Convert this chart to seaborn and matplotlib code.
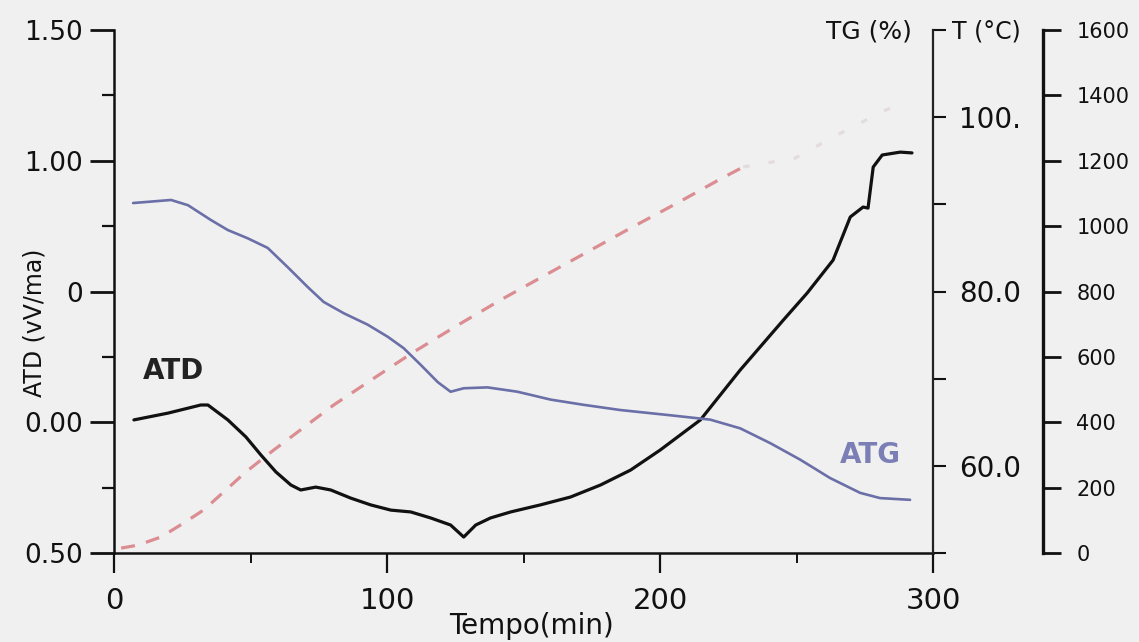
import matplotlib
matplotlib.use("Agg")
import matplotlib.pyplot as plt
import numpy as np
import pandas as pd
import seaborn as sns
from matplotlib.ticker import FixedLocator, FixedFormatter

# ---- data -----------------------------------------------------------------
# ATD signal (left axis)
atd_time = [7.3, 19.8, 31.8, 34.4, 41.7, 48.3, 53.8, 59.3, 64.8, 68.4, 73.9,
            79.4, 86.7, 94.0, 101.4, 108.7, 116.0, 123.3, 128.1, 132.5, 137.9,
            145.3, 156.2, 167.2, 178.2, 189.2, 200.1, 214.8, 229.4, 245.2,
            253.9, 263.4, 269.7, 274.4, 276.2, 278.1, 281.4, 288.0, 292.3]
atd_signal = [0.009, 0.035, 0.066, 0.066, 0.009, -0.056, -0.125, -0.190,
              -0.240, -0.259, -0.248, -0.259, -0.290, -0.316, -0.336, -0.343,
              -0.366, -0.393, -0.439, -0.393, -0.366, -0.343, -0.316, -0.286,
              -0.240, -0.183, -0.106, 0.009, 0.200, 0.391, 0.494, 0.620,
              0.785, 0.823, 0.819, 0.976, 1.022, 1.033, 1.030]

# ATG mass curve (TG axis, %)
atg_time = [7.0, 20.9, 27.1, 35.5, 41.7, 49.0, 56.3, 63.6, 71.0, 76.8, 84.2,
            92.9, 100.3, 106.1, 112.3, 118.6, 123.3, 128.1, 136.8, 147.8,
            159.9, 172.0, 185.5, 203.8, 218.4, 229.4, 240.4, 251.4, 262.3,
            273.3, 280.6, 291.6]
atg_mass = [90.15, 90.5, 89.9, 88.2, 87.05, 86.1, 85.0, 82.8, 80.5, 78.8, 77.5,
            76.2, 74.8, 73.5, 71.6, 69.6, 68.5, 68.9, 69.0, 68.5, 67.6, 67.0,
            66.4, 65.8, 65.3, 64.3, 62.6, 60.7, 58.6, 56.9, 56.3, 56.1]

# Furnace temperature (T axis, degC)
temp_time = [2.6, 8.8, 17.2, 25.6, 32.9, 48.3, 58.5, 80.5, 101.4, 109.8,
             125.9, 141.6, 157.3, 173.4, 189.2, 206.4, 222.1, 230.5, 249.5,
             264.9, 273.3, 281.7, 290.5]
temp_value = [15, 24, 49, 92, 132, 248, 315, 453, 569, 615, 697, 774, 847,
              921, 994, 1071, 1144, 1181, 1208, 1279, 1315, 1352, 1380]

# ---- tick labels ----------------------------------------------------------
x_ticks = [0, 100, 200, 300]
x_tick_labels = ["0", "100", "200", "300"]
atd_ticks = [-0.5, 0.0, 0.5, 1.0, 1.5]
atd_tick_labels = ["0.50", "0.00", "0", "1.00", "1.50"]
tg_ticks = [60, 80, 100]
tg_tick_labels = ["60.0", "80.0", "100."]
t_ticks = [0, 200, 400, 600, 800, 1000, 1200, 1400, 1600]
t_tick_labels = ["0", "200", "400", "600", "800", "1000", "1200", "1400", "1600"]

# ---- style ----------------------------------------------------------------
sns.set_style("ticks")
plt.rcParams["font.family"] = ["DejaVu Sans"]
BG = "#f0f0f0"
INK = "#111111"

W, H = 1139, 642
fig = plt.figure(figsize=(W / 100, H / 100), dpi=100, facecolor=BG)

x0, x1, y_top, y_bot = 114, 933, 30, 553
ax = fig.add_axes([x0 / W, (H - y_bot) / H, (x1 - x0) / W, (y_bot - y_top) / H])
ax.set_facecolor("none")

ax_tg = ax.twinx()
ax_t = ax.twinx()
for a in (ax_tg, ax_t):
    a.set_facecolor("none")

# ---- curves ---------------------------------------------------------------
temp_df = pd.DataFrame({"t": temp_time, "T": temp_value})
fade_start = 230.5
bright = temp_df[temp_df["t"] <= fade_start]
faint = temp_df[temp_df["t"] >= fade_start]
sns.lineplot(data=bright, x="t", y="T", ax=ax_t, color="#db8d92",
             linewidth=2.3, linestyle=(0, (4.4, 3.6)))
sns.lineplot(data=faint, x="t", y="T", ax=ax_t, color="#e3dbdc",
             linewidth=2.3, linestyle=(0, (2.0, 6.0)))

atg_df = pd.DataFrame({"t": atg_time, "TG": atg_mass})
sns.lineplot(data=atg_df, x="t", y="TG", ax=ax_tg, color="#6b6fa8",
             linewidth=1.9)

atd_df = pd.DataFrame({"t": atd_time, "ATD": atd_signal})
sns.lineplot(data=atd_df, x="t", y="ATD", ax=ax, color=INK, linewidth=2.3)

# ---- main axes (time / ATD) -----------------------------------------------
ax.set_xlim(0, 300)
ax.set_ylim(-0.5, 1.5)
for s in ("top", "right"):
    ax.spines[s].set_visible(False)
for s in ("left", "bottom"):
    ax.spines[s].set_linewidth(1.8)
    ax.spines[s].set_color(INK)

ax.xaxis.set_major_locator(FixedLocator(x_ticks))
ax.xaxis.set_major_formatter(FixedFormatter(x_tick_labels))
ax.xaxis.set_minor_locator(FixedLocator([50, 150, 250]))
ax.tick_params(axis="x", which="major", direction="out", length=14.5,
               width=1.6, color=INK, labelsize=21, pad=10, labelcolor=INK)
ax.tick_params(axis="x", which="minor", direction="out", length=7,
               width=1.4, color=INK)

ax.yaxis.set_major_locator(FixedLocator(atd_ticks))
ax.yaxis.set_major_formatter(FixedFormatter(atd_tick_labels))
ax.yaxis.set_minor_locator(FixedLocator([-0.25, 0.25, 0.75, 1.25]))
ax.tick_params(axis="y", which="major", direction="out", length=17.5,
               width=2.0, color=INK, labelsize=19, pad=5, labelcolor=INK)
ax.tick_params(axis="y", which="minor", direction="out", length=8.5,
               width=1.6, color=INK)

# ---- TG axis --------------------------------------------------------------
ax_tg.set_ylim(50, 110)
for s in ("top", "left", "bottom"):
    ax_tg.spines[s].set_visible(False)
ax_tg.spines["right"].set_linewidth(1.6)
ax_tg.spines["right"].set_color("#222222")
ax_tg.yaxis.set_major_locator(FixedLocator(tg_ticks))
ax_tg.yaxis.set_major_formatter(FixedFormatter(tg_tick_labels))
ax_tg.yaxis.set_minor_locator(FixedLocator([50, 70, 90, 110]))
ax_tg.tick_params(axis="y", which="major", direction="out", length=9.5,
                  width=1.5, color=INK, labelsize=20, pad=9, labelcolor=INK)
ax_tg.tick_params(axis="y", which="minor", direction="out", length=9.5,
                  width=1.5, color=INK)
ax_tg.set_ylabel("")
ax_tg.set_xlabel("")

# ---- temperature axis -----------------------------------------------------
ax_t.set_ylim(0, 1600)
for s in ("top", "left", "bottom"):
    ax_t.spines[s].set_visible(False)
ax_t.spines["right"].set_position(("axes", (1043 - x0) / (x1 - x0)))
ax_t.spines["right"].set_linewidth(2.4)
ax_t.spines["right"].set_color(INK)
ax_t.yaxis.set_major_locator(FixedLocator(t_ticks))
ax_t.yaxis.set_major_formatter(FixedFormatter(t_tick_labels))
ax_t.tick_params(axis="y", which="major", direction="out", length=13,
                 width=2.0, color=INK, labelsize=15, pad=11, labelcolor=INK)
ax_t.set_ylabel("")
ax_t.set_xlabel("")

# the time axis shared by the twins keeps its own labels
ax.set_xlabel("Tempo(min)", fontsize=20, color=INK)
ax.xaxis.set_label_coords(0.51, -0.113)
ax.set_ylabel("ATD (vV/ma)", fontsize=17, color=INK)
ax.yaxis.set_label_coords(-0.083, 0.44)

# ---- annotations ----------------------------------------------------------
ax.text(10.6, 0.196, "ATD", fontsize=20, fontweight="bold", color="#222222",
        ha="left", va="center")
ax.text(277, -0.125, "ATG", fontsize=20, fontweight="bold", color="#7b7fb6",
        ha="center", va="center")

fig.text(912 / W, 1 - 31 / H, "TG (%)", fontsize=18, color=INK,
         ha="right", va="center")
fig.text(952 / W, 1 - 31 / H, "T (°C)", fontsize=17, color=INK,
         ha="left", va="center")

fig.savefig("out.png", dpi=100, facecolor=BG)
